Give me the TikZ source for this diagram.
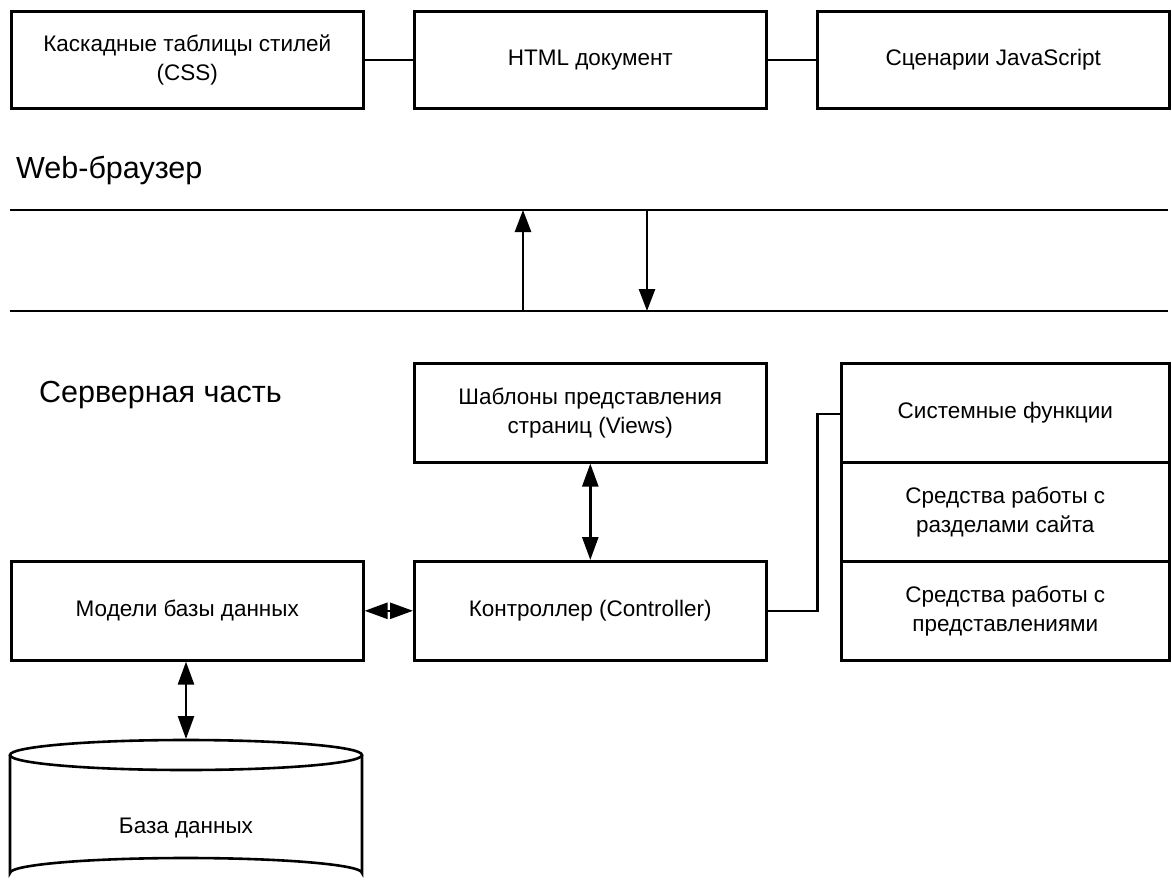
\documentclass[tikz,border=0pt]{standalone}
\usepackage{fontspec}
\setmainfont{Liberation Sans}
\usetikzlibrary{arrows.meta}

\tikzset{
  box/.style={draw, line width=2.6pt, anchor=north west, minimum width=352pt,
    minimum height=97pt, inner sep=0pt, align=center,
    font=\fontsize{22.5}{29}\selectfont},
  sidebox/.style={box, minimum width=328pt, minimum height=99pt},
  heading/.style={anchor=west, inner sep=0pt, font=\fontsize{30.5}{36}\selectfont},
  link/.style={line width=2.6pt},
  flow/.style={line width=2.6pt, -{Triangle[length=22pt,width=16pt]}},
  both/.style={line width=2.6pt, {Triangle[length=23pt,width=16pt]}-{Triangle[length=23pt,width=16pt]}},
}

\begin{document}
\begin{tikzpicture}[x=1pt,y=-1pt]
\clip (0,0) rectangle (1172,886);

% browser side
\node[box] (css) at (10,10) {Каскадные таблицы стилей\\(CSS)};
\node[box] (html) at (413,10) {HTML документ};
\node[box] (js) at (816,10) {Сценарии JavaScript};
\draw[link] (css.east) -- (html.west);
\draw[link] (html.east) -- (js.west);

\node[heading] (browser) at (16,170) {Web-браузер};

% transport band
\coordinate (bandTL) at (10,210);
\coordinate (bandTR) at (1168,210);
\coordinate (bandBL) at (10,311);
\coordinate (bandBR) at (1168,311);
\draw[link] (bandTL) -- (bandTR);
\draw[link] (bandBL) -- (bandBR);
\coordinate (upS) at (523,311);
\coordinate (upE) at (523,210);
\coordinate (downS) at (647,210);
\coordinate (downE) at (647,311);
\draw[flow] (upS) -- (upE);
\draw[flow] (downS) -- (downE);

% server side
\node[heading] (server) at (39,395) {Серверная часть};

\node[box, minimum height=99pt] (views) at (413,362) {Шаблоны представления\\страниц (Views)};
\node[box, minimum height=99pt] (ctrl) at (413,560) {Контроллер (Controller)};
\node[box, minimum height=99pt] (models) at (10,560) {Модели базы данных};

\node[sidebox] (sys) at (840,362) {Системные функции};
\node[sidebox] (sect) at (840,461) {Средства работы с\\разделами сайта};
\node[sidebox] (repr) at (840,560) {Средства работы с\\представлениями};

\draw[both] (views.south) -- (ctrl.north);
\draw[both] (models.east) -- (ctrl.west);
\draw[link] (ctrl.east) -- ++(50,0) |- ([yshift=-1pt]sys.west);

% database cylinder
\coordinate (dbtop) at (186,739);
\draw[line width=2.6pt, fill=white]
  (10,755) -- (10,873) arc[start angle=180, end angle=360, x radius=176, y radius=15]
  -- (362,755);
\draw[line width=2.6pt] (186,755) ellipse[x radius=176, y radius=15];
\node[inner sep=0pt, font=\fontsize{22.5}{29}\selectfont] (db) at (186,828) {База данных};
\draw[both] (models.south -| dbtop) -- (dbtop);
\end{tikzpicture}
\end{document}
